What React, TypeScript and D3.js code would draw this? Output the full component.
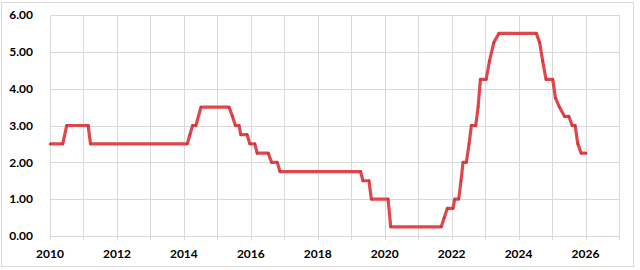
import React from "react";
import * as d3 from "d3";

const dates = [2010.0, 2010.38, 2010.5, 2011.14, 2011.21, 2014.10, 2014.18, 2014.26, 2014.36, 2014.51, 2015.35, 2015.45, 2015.54, 2015.65, 2015.70, 2015.89, 2015.97, 2016.12, 2016.19, 2016.52, 2016.62, 2016.79, 2016.87, 2019.28, 2019.35, 2019.53, 2019.60, 2020.10, 2020.18, 2021.69, 2021.78, 2021.87, 2022.04, 2022.09, 2022.21, 2022.28, 2022.34, 2022.44, 2022.52, 2022.59, 2022.72, 2022.79, 2022.86, 2023.03, 2023.13, 2023.26, 2023.41, 2024.53, 2024.63, 2024.72, 2024.82, 2025.02, 2025.10, 2025.22, 2025.37, 2025.50, 2025.60, 2025.69, 2025.77, 2025.87, 2026.02];
const rates = [2.5, 2.5, 3.0, 3.0, 2.5, 2.5, 2.75, 3.0, 3.0, 3.5, 3.5, 3.25, 3.0, 3.0, 2.75, 2.75, 2.5, 2.5, 2.25, 2.25, 2.0, 2.0, 1.75, 1.75, 1.5, 1.5, 1.0, 1.0, 0.25, 0.25, 0.5, 0.75, 0.75, 1.0, 1.0, 1.5, 2.0, 2.0, 2.5, 3.0, 3.0, 3.5, 4.25, 4.25, 4.75, 5.25, 5.5, 5.5, 5.25, 4.75, 4.25, 4.25, 3.75, 3.5, 3.25, 3.25, 3.0, 3.0, 2.5, 2.25, 2.25];
const yTicks = [0, 1, 2, 3, 4, 5, 6];
const xGridYears = d3.range(2010, 2028);
const xLabelYears = [2010, 2012, 2014, 2016, 2018, 2020, 2022, 2024, 2026];

export default function App() {
  const W = 640, H = 270;
  const left = 50, right = 619, top = 15, bottom = 236;
  const x = d3.scaleLinear().domain([2010, 2027]).range([left, right]);
  const y = d3.scaleLinear().domain([0, 6]).range([bottom, top]);
  const data = dates.map((d, i) => [d, rates[i]] as [number, number]);
  const line = d3.line<[number, number]>().x(d => x(d[0])).y(d => y(d[1]));
  const font = "Lato, 'Open Sans', sans-serif";
  return (
    <svg width={W} height={H} style={{ position: "absolute", left: 0, top: 0, background: "#fff" }}>
      <rect x={1.5} y={2.5} width={632} height={264} fill="#fff" stroke="#d9d9d9" />
      {yTicks.map(t => (
        <line key={"gy" + t} x1={left} x2={right} y1={Math.round(y(t)) + 0.5} y2={Math.round(y(t)) + 0.5} stroke="#d9d9d9" />
      ))}
      {xGridYears.map(t => (
        <line key={"gx" + t} x1={Math.round(x(t)) + 0.5} x2={Math.round(x(t)) + 0.5} y1={top} y2={bottom + 4} stroke="#d9d9d9" />
      ))}
      {yTicks.map(t => (
        <text key={"ly" + t} x={33} y={y(t)} dy="0.35em" textAnchor="end" fontFamily={font} fontWeight="bold" fontSize={12} fill="#000">
          {t.toFixed(2)}
        </text>
      ))}
      {xLabelYears.map(t => (
        <text key={"lx" + t} x={x(t)} y={258} textAnchor="middle" fontFamily={font} fontWeight="bold" fontSize={12} fill="#000">
          {t}
        </text>
      ))}
      <path d={line(data) || ""} fill="none" stroke="#e0474c" strokeWidth={3.2} strokeLinejoin="round" />
      {data.map((d, i) => (
        <circle key={"m" + i} cx={x(d[0])} cy={y(d[1])} r={1.2} fill="#c9343a" />
      ))}
    </svg>
  );
}
